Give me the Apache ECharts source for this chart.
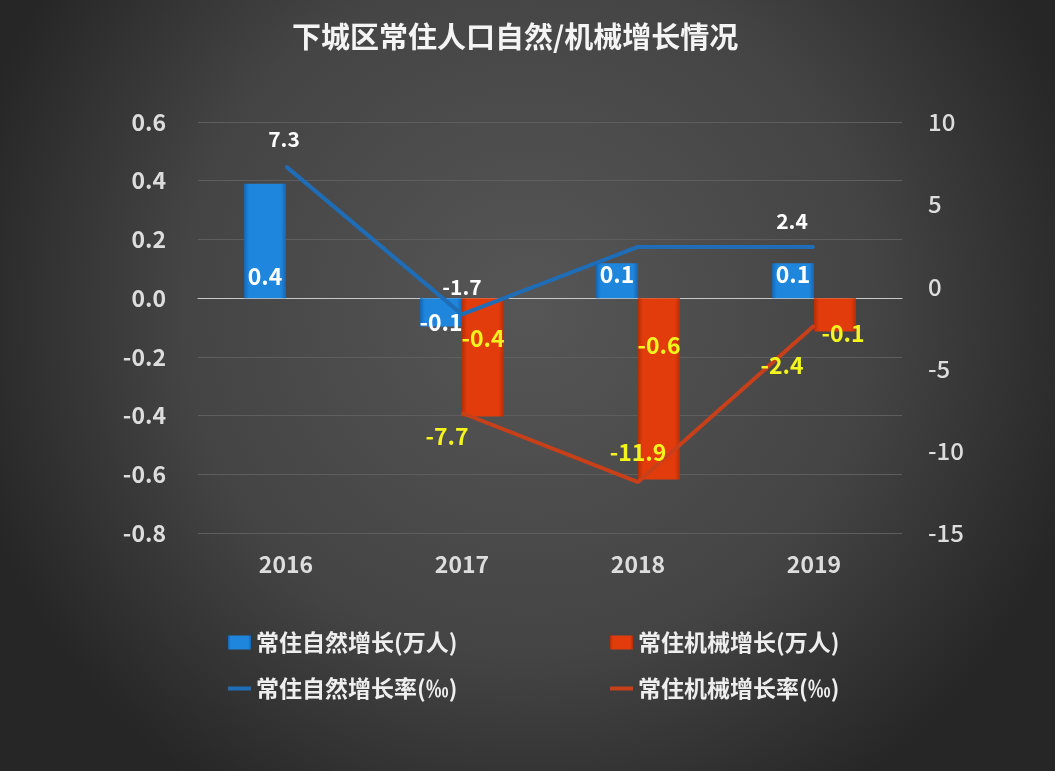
<!DOCTYPE html>
<html><head><meta charset="utf-8">
<script src="https://cdn.jsdelivr.net/npm/echarts@6/dist/echarts.min.js"></script>
<style>html,body{margin:0;padding:0;background:#333;}#c{width:1055px;height:771px;}</style>
</head><body><div id="c"></div>
<script>
const categories = ['2016','2017','2018','2019'];
const naturalGrowth = [0.39, -0.097, 0.119, 0.119];
const naturalGrowthLabels = ['0.4','-0.1','0.1','0.1'];
const mechGrowth = [null, -0.403, -0.618, -0.114];
const mechGrowthLabels = ['', '-0.4','-0.6','-0.1'];
const naturalRate = [7.3, -1.7, 2.4, 2.4];
const mechRate = [null, -7.7, -11.9, -2.4];
const leftTicks = [-0.8,-0.6,-0.4,-0.2,0,0.2,0.4,0.6];
const rightTicks = [-15,-10,-5,0,5,10];

const font = '"Noto Sans CJK SC", "Noto Sans", sans-serif';
const chart = echarts.init(document.getElementById('c'));

function grad(c1, c2){
  return {type:'linear',x:0,y:0,x2:1,y2:0,colorStops:[
    {offset:0,color:c2},{offset:0.12,color:c1},{offset:0.88,color:c1},{offset:1,color:c2}]};
}

// label placement (relative to point, symbolSize 2 -> +1)
const natRatePos = [[-1,-26],[1,-26],[1,-26],[-21,-25]];
const mechRatePos = [null,[-14,24],[1,-29],[-31,40]];
const natBarLabelCfg = [
  {position:'insideBottom',distance:10},
  {position:'insideTop',distance:13},
  {position:'insideBottom',distance:12},
  {position:'insideBottom',distance:12}];
const mechBarLabelCfg = [null,
  {position:'insideTop',distance:40},
  {position:'insideTop',distance:47},
  {position:[29,35]}];

const legendText = {color:'#eeeeee',fontSize:23,fontWeight:'bold'};

chart.setOption({
  backgroundColor:{type:'radial',x:0.5,y:0.4,r:0.75,colorStops:[
    {offset:0,color:'#565656'},{offset:0.6,color:'#444444'},{offset:1,color:'#262626'}]},
  textStyle:{fontFamily:font},
  title:{text:'下城区常住人口自然/机械增长情况',left:287,top:17,
    textStyle:{color:'#f4f4f4',fontSize:29,fontWeight:'bold',fontFamily:font}},
  grid:{left:198,right:153,top:122,bottom:238},
  legend:[
    {left:223,top:626,itemWidth:23,itemHeight:14,itemGap:6,textStyle:legendText,
      data:[{name:'常住自然增长(万人)',icon:'rect'}]},
    {left:605,top:626,itemWidth:23,itemHeight:14,textStyle:legendText,
      data:[{name:'常住机械增长(万人)',icon:'rect'}]},
    {left:223,top:672,itemWidth:23,itemHeight:4,textStyle:legendText,
      data:[{name:'常住自然增长率(‰)',icon:'rect',itemStyle:{color:'#1f6db6'}}]},
    {left:605,top:672,itemWidth:23,itemHeight:4,textStyle:legendText,
      data:[{name:'常住机械增长率(‰)',icon:'rect',itemStyle:{color:'#c8401a'}}]}
  ],
  xAxis:{type:'category',data:categories,
    axisLine:{show:true,onZero:true,lineStyle:{color:'#c8c8c8',width:1}},
    axisTick:{show:false},
    axisLabel:{color:'#dddddd',fontSize:23,fontWeight:'bold',margin:20},
    position:'bottom'},
  yAxis:[
    {type:'value',min:-0.8,max:0.6,interval:0.2,
      axisLabel:{color:'#dddddd',fontSize:23,fontWeight:'bold',margin:32,
        formatter:v=>{const t=leftTicks.find(x=>Math.abs(x-v)<1e-9);return (t===undefined?v:t).toFixed(1);}},
      axisLine:{show:false},axisTick:{show:false},
      splitLine:{lineStyle:{color:'#5e5e5e',width:1}}},
    {type:'value',min:-15,max:10,interval:5,
      axisLabel:{color:'#dddddd',fontSize:24,fontWeight:500,margin:26,
        formatter:v=>String(rightTicks.find(x=>Math.abs(x-v)<1e-9) ?? v)},
      axisLine:{show:false},axisTick:{show:false},splitLine:{show:false}}
  ],
  series:[
    {name:'常住自然增长(万人)',type:'bar',yAxisIndex:0,
      data:naturalGrowth.map((v,i)=>({value:v,label:natBarLabelCfg[i]})),
      barWidth:42,barGap:'0%',
      itemStyle:{color:grad('#1f86de','#1466b4')},
      label:{show:true,color:'#ffffff',fontSize:23,fontWeight:'bold',
        formatter:p=>naturalGrowthLabels[p.dataIndex]}},
    {name:'常住机械增长(万人)',type:'bar',yAxisIndex:0,
      data:mechGrowth.map((v,i)=>v===null?null:({value:v,label:Object.assign({align:'center',verticalAlign:'middle'},mechBarLabelCfg[i])})),
      barWidth:42,barGap:'0%',
      itemStyle:{color:grad('#e23c0c','#b42e08')},
      label:{show:true,color:'#f5f51e',fontSize:23,fontWeight:'bold',
        formatter:p=>mechGrowthLabels[p.dataIndex]}},
    {name:'常住自然增长率(‰)',type:'line',yAxisIndex:1,data:naturalRate.map((v,i)=>({value:v,
        label:{show:i!==2,position:natRatePos[i],align:'center',verticalAlign:'middle'}})),
      symbol:'circle',symbolSize:2,showSymbol:true,
      lineStyle:{color:'#1f6db6',width:4},itemStyle:{color:'#1f6db6'},
      labelLayout:{hideOverlap:false},
      label:{show:true,color:'#ffffff',fontSize:21,fontWeight:'bold'}},
    {name:'常住机械增长率(‰)',type:'line',yAxisIndex:1,
      data:mechRate.map((v,i)=>v===null?null:({value:v,label:{show:true,position:mechRatePos[i],align:'center',verticalAlign:'middle'}})),
      symbol:'circle',symbolSize:2,showSymbol:true,
      lineStyle:{color:'#c8401a',width:4},itemStyle:{color:'#c8401a'},
      labelLayout:{hideOverlap:false},
      label:{show:true,color:'#f5f51e',fontSize:23,fontWeight:'bold'}}
  ]
});
</script></body></html>
